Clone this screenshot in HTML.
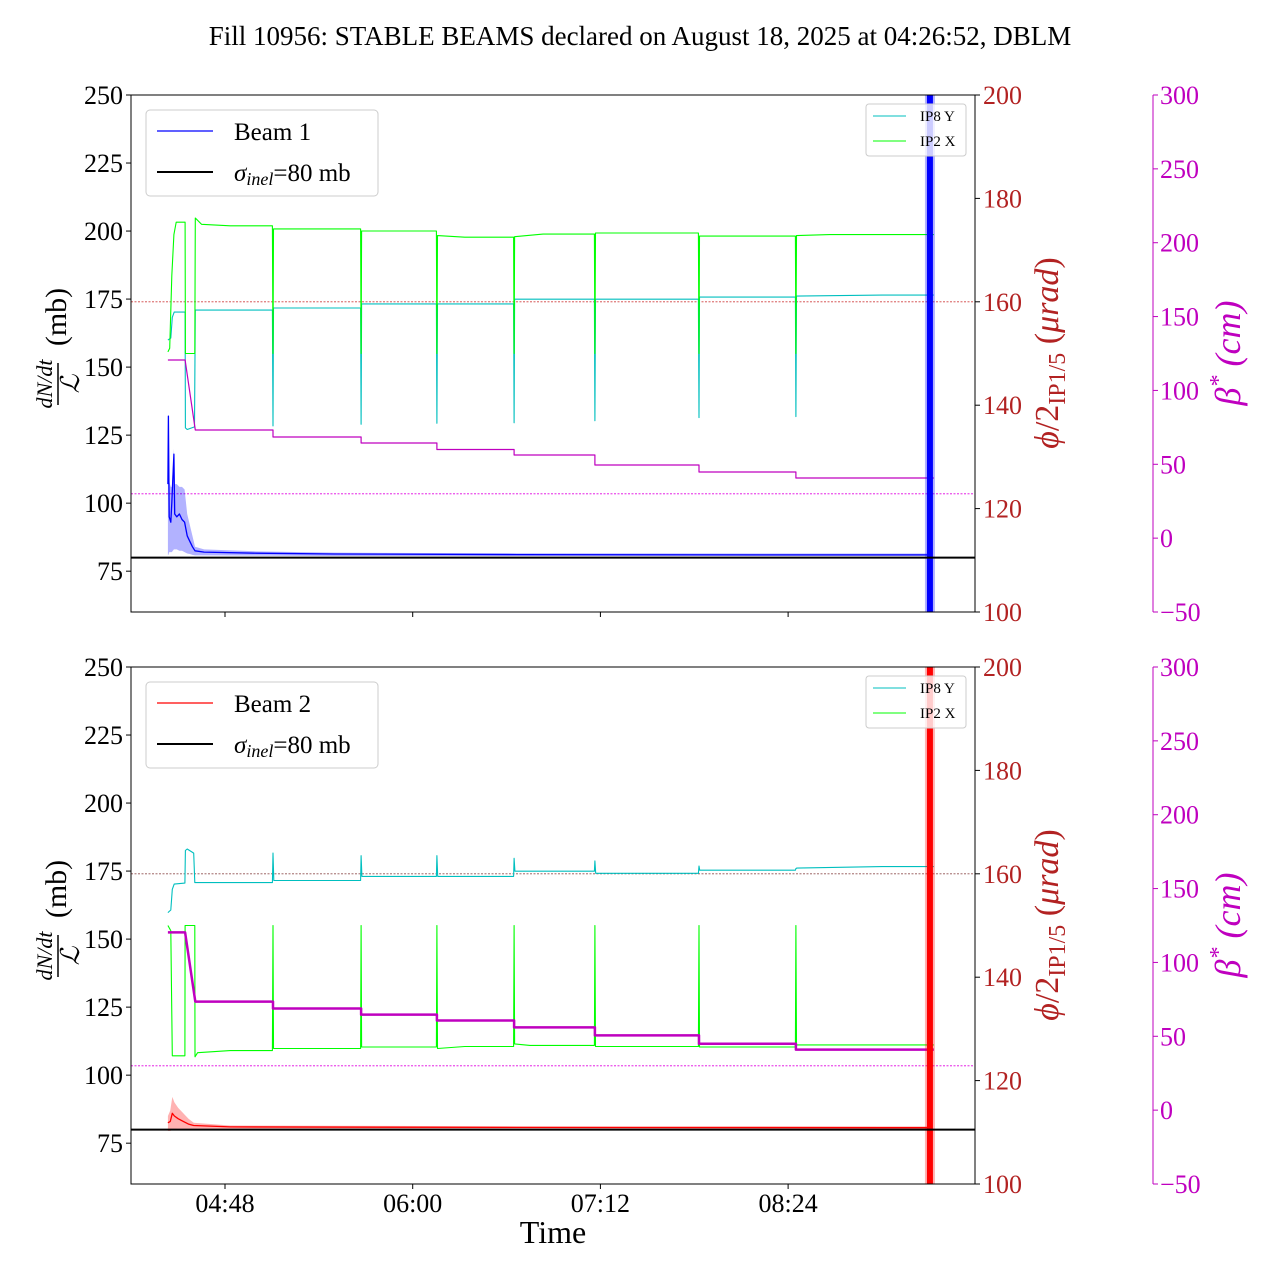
<!DOCTYPE html>
<html><head><meta charset="utf-8"><style>
html,body{margin:0;padding:0;background:#fff}
svg{display:block;font-family:"Liberation Serif",serif}
</style></head><body>
<svg id="c" width="1280" height="1280" viewBox="0 0 1280 1280" xmlns="http://www.w3.org/2000/svg">
<text x="640" y="45" text-anchor="middle" font-size="27">Fill 10956: STABLE BEAMS declared on August 18, 2025 at 04:26:52, DBLM</text>
<text x="553" y="1243" text-anchor="middle" font-size="32">Time</text>
</svg>
<script>
// time in minutes since midnight
const xTickLabels = ["04:48","06:00","07:12","08:24"];
const xTickVals = [288,360,432,504];
const leftTicks = [75,100,125,150,175,200,225,250];
const phiTicks = [100,120,140,160,180,200];
const betaTicks = [-50,0,50,100,150,200,250,300];
const sigmaInel = 80;
const phiRef = 160;
const betaRef = 30;
const bandTime = 558.4;

const ip2XTopT = [266.1,266.8,267.6,268.4,269.3,272.7,272.8,276.4,276.6,279,290,306.2,306.4,306.6,340.0,340.2,340.4,369.1,369.3,369.5,380,398.7,398.9,399.1,410,429.7,429.9,430.1,469.6,469.8,470.0,506.8,507.0,507.2,520,559.9];
const ip2XTopV = [150.3,151,165,173,175.4,175.4,150,150,176.2,175.0,174.7,174.7,150,174.1,174.1,150,173.7,173.7,150,172.8,172.5,172.5,150,172.6,173.1,173.1,150,173.3,173.3,150,172.7,172.7,150,172.8,173,173];
const ip8YTopT = [266.1,267.2,267.8,268.5,272.7,272.8,273.5,276.3,276.6,306.2,306.4,306.6,340.0,340.2,340.4,369.1,369.3,369.5,398.7,398.9,399.1,429.7,429.9,430.1,469.6,469.8,470.0,506.8,507.0,507.2,540,559.9];
const ip8YTopV = [152.6,153,157,158,158,135.6,135.3,135.8,158.4,158.4,136,158.8,158.8,136.3,159.6,159.6,136.5,159.6,159.6,136.6,160.5,160.5,137,160.5,160.5,137.6,160.9,160.9,137.8,161.1,161.3,161.3];
const betaTopT = [266.1,272.7,276.6,306.4,306.4,340.2,340.2,369.3,369.3,398.9,398.9,429.9,429.9,469.8,469.8,507,507,559.9];
const betaTopV = [120.6,120.6,73.2,73.2,68.5,68.5,64.4,64.4,60,60,56.3,56.3,49.5,49.5,44.8,44.8,40.7,40.7];
const beam1T = [266.1,266.3,266.6,267.2,267.6,268.4,268.7,269.5,270.5,271.5,272.5,273.5,274.5,275.5,276.5,280,300,330,400,500,557.9];
const beam1V = [107,132,95,93,100,118,96,95,96,94,93,88,86,84,82.5,82,81.6,81.3,81.1,81.0,81.0];
const beam1Hi = [110,133,108,106,106,120,107,107,106,106,105,96,92,88,84,83,82.3,81.8,81.6,81.5,81.5];
const beam1Lo = [81,81,82,82,82,83,83,83,82.5,82.5,82,81.5,81.3,81,80.8,80.8,80.7,80.6,80.6,80.6,80.6];

const ip8YBotT = [266.1,267.2,267.8,268.5,272.6,272.8,273.5,276.0,276.4,306.2,306.4,306.7,340.0,340.2,340.5,369.1,369.3,369.6,398.7,398.9,399.2,429.7,429.9,430.2,469.6,469.8,470.1,506.8,507.0,507.3,540,559.9];
const ip8YBotV = [152.5,153,157,158,158.2,164.5,164.8,164,158.3,158.3,164,158.7,158.7,163.5,159.5,159.5,163.5,159.5,159.5,163,160.5,160.5,162.5,160.1,160.1,161.5,160.7,160.7,161,161.1,161.4,161.4];
const ip2XBotT = [266.1,267.2,267.8,272.6,272.7,276.4,276.5,277.5,290,306.2,306.4,306.6,340.0,340.2,340.4,369.1,369.3,369.5,380,398.7,398.9,399.1,405,429.7,429.9,430.1,469.6,469.8,470.0,506.8,507.0,507.2,559.9];
const ip2XBotV = [150,149,124.8,124.8,150,150,124.6,125.4,125.8,125.8,150,126.2,126.2,150,126.5,126.5,150,126.2,126.6,126.6,150,127.1,126.8,126.8,150,126.6,126.6,150,126.5,126.5,150,126.9,126.9];
const betaBotT = [266.1,272.7,276.6,306.4,306.4,340.2,340.2,369.3,369.3,398.9,398.9,429.9,429.9,469.8,469.8,507,507,559.9];
const betaBotV = [120.3,120.3,73.5,73.5,68.8,68.8,64.7,64.7,60.7,60.7,56,56,50.6,50.6,45,45,41,41];
const beam2T = [266.1,267,267.8,268.6,270,272,274,276,290,400,557.9];
const beam2V = [82.5,83,86,85,84,83,82,81.5,81,80.8,80.7];
const beam2Hi = [85,87,92,90,88,86,84,82.5,81.5,81.2,81.2];
const beam2Lo = [79.5,79.5,80,80.2,80.3,80.3,80.3,80.3,80.3,80.3,80.3];

const NS="http://www.w3.org/2000/svg";
const svg=document.getElementById('c');
function mk(tag,attrs,parent){const e=document.createElementNS(NS,tag);for(const k in attrs)e.setAttribute(k,attrs[k]);(parent||svg).appendChild(e);return e;}
const X0=131,X1=975;
const TF=26;
function xS(t){return 225+(t-288)*2.607;}

function panel(top,opts){
  const bot=top+517;
  const yL=v=>top+(250-v)*(517/190);
  const yP=v=>top+(200-v)*(517/100);
  const yB=v=>top+(300-v)*(517/350);
  const g=mk('g',{});
  
  
  const clip=mk('clipPath',{id:'cl'+top},g);
  mk('rect',{x:X0,y:top,width:X1-X0,height:517},clip);
  const pg=mk('g',{'clip-path':'url(#cl'+top+')'},g);
  
  
  function line(T,V,ys,color,w,name,dash){
    const p=mk('polyline',{points:T.map((t,i)=>xS(t).toFixed(1)+','+ys(V[i]).toFixed(1)).join(' '),fill:'none',stroke:color,'stroke-width':w,'stroke-linejoin':'round'},pg);
    if(dash)p.setAttribute('stroke-dasharray',dash);
    
    
    return p;
  }
  const r1=mk('line',{x1:X0,x2:X1,y1:yP(phiRef),y2:yP(phiRef),stroke:opts.refColor,'stroke-width':0.8,'stroke-dasharray':'2,1.5'},pg);
  
  
  const r2=mk('line',{x1:X0,x2:X1,y1:yB(betaRef),y2:yB(betaRef),stroke:'#e000e0','stroke-width':0.8,'stroke-dasharray':'2,1.5'},pg);
  
  
  const bT=opts.bT,bV=opts.bV,bH=opts.bH,bL=opts.bL;
  const pts=bT.map((t,i)=>xS(t)+','+yL(bH[i])).concat(bT.slice().reverse().map((t,j)=>{const i=bT.length-1-j;return xS(t)+','+yL(bL[i]);}));
  const poly=mk('polygon',{points:pts.join(' '),fill:opts.fill,stroke:'none'},pg);
  
  
  line(opts.ip8T,opts.ip8V,yP,'#00bfbf',1.1,'ip8-y-line');
  line(opts.ip2T,opts.ip2V,yP,'#00ff00',1.1,'ip2-x-line');
  line(opts.betaT,opts.betaV,yB,'#bf00bf',opts.betaW,'beta-star-line');
  line(bT,bV,yL,opts.color,1.3,opts.beam+'-line');
  const vb=mk('rect',{x:xS(bandTime)-5,y:top,width:10,height:517,fill:opts.fill},pg);
  
  
  const vb2=mk('rect',{x:xS(bandTime)-3,y:top,width:6,height:517,fill:opts.color},pg);
  
  
  const sl=mk('line',{x1:X0,x2:X1,y1:yL(sigmaInel),y2:yL(sigmaInel),stroke:'#000','stroke-width':2},pg);
  
  
  const fr=mk('rect',{x:X0,y:top,width:X1-X0,height:517,fill:'none',stroke:'#000','stroke-width':1},g);
  
  
  leftTicks.forEach(v=>{
    mk('line',{x1:X0-5,x2:X0,y1:yL(v),y2:yL(v),stroke:'#000'},g);
    const t=mk('text',{x:X0-8,y:yL(v)+9,'text-anchor':'end','font-size':TF},g);t.textContent=v;
    
    
  });
  phiTicks.forEach(v=>{
    mk('line',{x1:X1,x2:X1+5,y1:yP(v),y2:yP(v),stroke:'#000'},g);
    const t=mk('text',{x:X1+8,y:yP(v)+9,'font-size':TF,fill:'#b22222'},g);t.textContent=v;
    
    
  });
  mk('line',{x1:1153,x2:1153,y1:top,y2:bot,stroke:'#bf00bf','stroke-width':1},g);
  betaTicks.forEach(v=>{
    mk('line',{x1:1153,x2:1158,y1:yB(v),y2:yB(v),stroke:'#bf00bf'},g);
    const t=mk('text',{x:1160,y:yB(v)+9,'font-size':TF,fill:'#bf00bf'},g);t.textContent=(v<0?'\u2212'+(-v):v);
    
    
  });
  xTickVals.forEach((v,i)=>{
    mk('line',{x1:xS(v),x2:xS(v),y1:bot,y2:bot+5,stroke:'#000'},g);
    if(opts.xlabels){const t=mk('text',{x:xS(v),y:bot+28,'text-anchor':'middle','font-size':TF},g);t.textContent=xTickLabels[i];
      
      }
  });
  const mid=top+258;
  const lt=mk('g',{transform:`translate(60,${mid}) rotate(-90)`},g);
  
  
  let t=mk('text',{x:-31,y:-8,'text-anchor':'middle','font-size':22,'font-style':'italic'},lt);t.textContent='dN/dt';
  mk('line',{x1:-52,x2:-10,y1:-2,y2:-2,stroke:'#000','stroke-width':1.5},lt);
  t=mk('text',{x:-31,y:19,'text-anchor':'middle','font-size':26,'font-style':'italic','font-family':'DejaVu Serif,serif'},lt);t.textContent='\u2112';
  t=mk('text',{x:36,y:6,'text-anchor':'middle','font-size':30},lt);t.textContent='(mb)';
  const pt=mk('text',{transform:`translate(1058,${mid}) rotate(-90)`,'text-anchor':'middle','font-size':34,fill:'#b22222'},g);
  
  
  pt.innerHTML='<tspan font-style="italic">\u03d5</tspan>/2<tspan font-size="24" dy="7">IP1/5</tspan><tspan dy="-7"> (</tspan><tspan font-style="italic">\u03bcrad</tspan>)';
  const bt=mk('text',{transform:`translate(1240,${mid}) rotate(-90)`,'text-anchor':'middle','font-size':36,fill:'#bf00bf','font-style':'italic'},g);
  
  
  bt.innerHTML='\u03b2<tspan font-size="24" dy="-14">*</tspan><tspan dy="14"> (cm)</tspan>';
  const lg=mk('g',{},g);
  
  
  mk('rect',{x:146,y:top+15,width:232,height:86,rx:4,fill:'#fff','fill-opacity':0.8,stroke:'#ccc'},lg);
  mk('line',{x1:157,x2:213,y1:top+36,y2:top+36,stroke:opts.color,'stroke-width':1.3},lg);
  t=mk('text',{x:234,y:top+45,'font-size':25},lg);t.textContent=opts.beamLabel;
  mk('line',{x1:157,x2:213,y1:top+77,y2:top+77,stroke:'#000','stroke-width':2},lg);
  t=mk('text',{x:234,y:top+86,'font-size':25},lg);t.innerHTML='<tspan font-style="italic">\u03c3</tspan><tspan font-size="18" dy="4" font-style="italic">inel</tspan><tspan dy="-4">=80 mb</tspan>';
  const ls=mk('g',{},g);
  
  
  mk('rect',{x:866,y:top+9,width:100,height:52,rx:3,fill:'#fff','fill-opacity':0.8,stroke:'#ccc'},ls);
  mk('line',{x1:873,x2:906,y1:top+21,y2:top+21,stroke:'#00bfbf','stroke-width':1.1},ls);
  t=mk('text',{x:920,y:top+26,'font-size':15},ls);t.textContent='IP8 Y';
  mk('line',{x1:873,x2:906,y1:top+46,y2:top+46,stroke:'#00ff00','stroke-width':1.1},ls);
  t=mk('text',{x:920,y:top+51,'font-size':15},ls);t.textContent='IP2 X';
}
panel(95,{name:'beam1-panel',beam:'beam1',beamLabel:'Beam 1',color:'#0000ff',fill:'rgba(0,0,255,0.3)',refColor:'#d04040',
  bT:beam1T,bV:beam1V,bH:beam1Hi,bL:beam1Lo,ip8T:ip8YTopT,ip8V:ip8YTopV,ip2T:ip2XTopT,ip2V:ip2XTopV,betaT:betaTopT,betaV:betaTopV,betaW:1.2,xlabels:false});
panel(667,{name:'beam2-panel',beam:'beam2',beamLabel:'Beam 2',color:'#ff0000',fill:'rgba(255,0,0,0.3)',refColor:'#905050',
  bT:beam2T,bV:beam2V,bH:beam2Hi,bL:beam2Lo,ip8T:ip8YBotT,ip8V:ip8YBotV,ip2T:ip2XBotT,ip2V:ip2XBotV,betaT:betaBotT,betaV:betaBotV,betaW:2.5,xlabels:true});
</script>
</body></html>
